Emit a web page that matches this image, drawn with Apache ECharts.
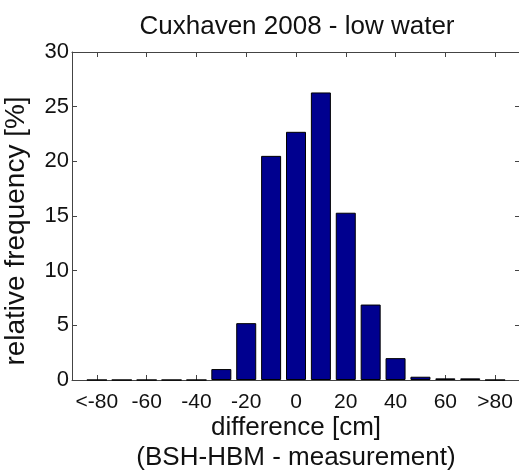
<!DOCTYPE html>
<html>
<head>
<meta charset="utf-8">
<script src="https://cdn.jsdelivr.net/npm/echarts@6/dist/echarts.min.js"></script>
<style>
  html, body { margin: 0; padding: 0; background: #fff; }
  #chart-hist { width: 519px; height: 472px; }
</style>
</head>
<body>
<div id="chart-hist"></div>
<script>
// histogram data, bin centres in cm
var binCenters = [-80, -70, -60, -50, -40, -30, -20, -10, 0, 10, 20, 30, 40, 50, 60, 70, 80];
var frequency = [0, 0, 0, 0, 0, 1.0, 5.2, 20.5, 22.7, 26.3, 15.3, 6.9, 2.0, 0.3, 0.15, 0.15, 0];
var xTicks = [-80, -60, -40, -20, 0, 20, 40, 60, 80];

var chartHist = echarts.init(document.getElementById('chart-hist'));

var font = 'Liberation Sans, Arial, sans-serif';
var axisColor = '#444';

function xLabel(v) {
    if (v === xTicks[0]) return '<' + v;
    if (v === xTicks[xTicks.length - 1]) return '>' + v;
    return String(v);
}

var optionHist = {
    animation: false,
    title: {
        text: 'Cuxhaven 2008 - low water',
        left: 292,
        top: 9,
        textAlign: 'center',
        textStyle: { fontFamily: font, fontSize: 26, fontWeight: 'normal', color: '#111' }
    },
    grid: { left: 72, right: -1, top: 52, bottom: 92, outerBoundsMode: 'none', containLabel: false },
    xAxis: [
        {
            type: 'value',
            min: -90,
            max: 90,
            position: 'bottom',
            axisLine: { onZero: false, lineStyle: { color: axisColor } },
            axisTick: { inside: true, length: 5, customValues: xTicks, lineStyle: { color: axisColor } },
            axisLabel: {
                customValues: xTicks,
                formatter: xLabel,
                margin: 12,
                fontFamily: font, fontSize: 21, color: '#111'
            },
            splitLine: { show: false },
            name: 'difference [cm]\n(BSH-HBM - measurement)',
            nameLocation: 'middle',
            nameGap: 33,
            nameMoveOverlap: false,
            nameTextStyle: { fontFamily: font, fontSize: 26, color: '#111', lineHeight: 30 }
        },
        {
            type: 'value',
            min: -90,
            max: 90,
            position: 'top',
            axisLine: { onZero: false, lineStyle: { color: axisColor } },
            axisTick: { inside: true, length: 5, customValues: xTicks, lineStyle: { color: axisColor } },
            axisLabel: { show: false },
            splitLine: { show: false }
        }
    ],
    yAxis: [
        {
            type: 'value',
            min: 0,
            max: 30,
            interval: 5,
            position: 'left',
            axisLine: { show: true, onZero: false, lineStyle: { color: axisColor } },
            axisTick: { show: true, inside: true, length: 5, lineStyle: { color: axisColor } },
            axisLabel: { margin: 3, fontFamily: font, fontSize: 22, color: '#111' },
            splitLine: { show: false },
            name: 'relative frequency [%]',
            nameLocation: 'middle',
            nameRotate: 90,
            nameGap: 42,
            nameMoveOverlap: false,
            nameTextStyle: { fontFamily: font, fontSize: 28, color: '#111', padding: [0, 30, 0, 0] }
        },
        {
            type: 'value',
            min: 0,
            max: 30,
            interval: 5,
            position: 'right',
            axisLine: { show: true, onZero: false, lineStyle: { color: axisColor } },
            axisTick: { show: true, inside: true, length: 5, lineStyle: { color: axisColor } },
            axisLabel: { show: false },
            splitLine: { show: false }
        }
    ],
    series: [{
        type: 'bar',
        xAxisIndex: 0,
        yAxisIndex: 0,
        barWidth: 20,
        itemStyle: { color: '#00008F', borderColor: '#000', borderWidth: 1 },
        data: binCenters.map(function (c, i) { return [c, frequency[i]]; })
    }]
};

chartHist.setOption(optionHist);
</script>
</body>
</html>
